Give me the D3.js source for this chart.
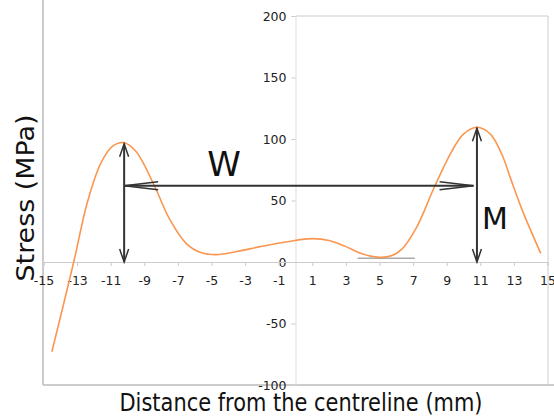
<!DOCTYPE html>
<html>
<head>
<meta charset="utf-8">
<script src="https://cdn.jsdelivr.net/npm/d3@7"></script>
<style>
  body { margin: 0; background: #fff; }
  text { font-family: "DejaVu Sans", sans-serif; }
</style>
</head>
<body>
<svg id="chart" width="554" height="416"></svg>
<script>
// distance (mm) and stress (MPa)
var dist = [-14.5, -13.2, -12.4, -11.6, -10.9, -10.2, -9.5, -8.4, -7.5, -6.5, -5.6, -4.7, -3.5, -2.1, -0.5, 1.0, 2.0, 3.0, 4.0, 5.0, 5.7, 6.3, 7.2, 8.3, 9.3, 10.0, 10.8, 11.6, 12.3, 12.8, 13.5, 14.6];
var stress = [-73, 0, 48, 80, 94, 97, 90, 62, 35, 15, 7.5, 6, 8.5, 12.5, 16.5, 19, 17.5, 12.5, 6.5, 3.8, 5, 10, 28, 62, 90, 104, 109.5, 104, 87, 68, 42, 7];

var xTicks = [-15, -13, -11, -9, -7, -5, -3, -1, 1, 3, 5, 7, 9, 11, 13, 15];
var yTicks = [-100, -50, 0, 50, 100, 150, 200];

// annotation arrows (data units)
var wArrow = [-10.2, 10.6, 62];      // x1, x2, y
var leftArrow = [-10.2, 0, 97];      // x, y1, y2
var rightArrow = [10.8, 0, 109.5];
var flatLine = [3.7, 7.1, 3];

var x = d3.scaleLinear().domain([-15, 15]).range([43.5, 547.5]);
var y = d3.scaleLinear().domain([-100, 200]).range([385, 16]);

var svg = d3.select("#chart");

// frame
svg.append("line").attr("x1", 43).attr("x2", 43).attr("y1", 0).attr("y2", 385).attr("stroke", "#bbb").attr("stroke-width", 1.5);
svg.append("line").attr("x1", 43).attr("x2", 554).attr("y1", 385).attr("y2", 385).attr("stroke", "#bbb").attr("stroke-width", 1.5);
svg.append("line").attr("x1", x(0)).attr("x2", 548).attr("y1", y(200)).attr("y2", y(200)).attr("stroke", "#ccc");
svg.append("line").attr("x1", 548).attr("x2", 548).attr("y1", y(200)).attr("y2", 385).attr("stroke", "#ccc");

var fmt = function(d){ return String(d); };

// y axis at x = 0
var yAxis = svg.append("g").attr("transform", "translate(" + x(0) + ",0)")
  .call(d3.axisLeft(y).tickValues(yTicks).tickSize(4).tickPadding(5).tickFormat(fmt));
yAxis.select(".domain").attr("stroke", "#ddd");
yAxis.selectAll(".tick line").attr("stroke", "#ccc");
yAxis.selectAll("text").attr("font-size", 12.5).attr("fill", "#222").style("font-family", "DejaVu Sans");

// x axis at y = 0
var xAxis = svg.append("g").attr("transform", "translate(0," + y(0) + ")")
  .call(d3.axisBottom(x).tickValues(xTicks).tickSize(4).tickPadding(10).tickFormat(fmt));
xAxis.select(".domain").attr("stroke", "#ccc");
xAxis.selectAll(".tick line").attr("stroke", "#ccc");
xAxis.selectAll("text").attr("font-size", 12.5).attr("fill", "#222").style("font-family", "DejaVu Sans");

// grey flat line near the second minimum
svg.append("line")
  .attr("x1", x(flatLine[0])).attr("x2", x(flatLine[1]))
  .attr("y1", y(flatLine[2])).attr("y2", y(flatLine[2]))
  .attr("stroke", "#aaa").attr("stroke-width", 1.5);

// stress curve
var line = d3.line().x(function(d, i){ return x(dist[i]); }).y(function(d){ return y(d); }).curve(d3.curveCatmullRom);
svg.append("path").datum(stress)
  .attr("d", line)
  .attr("fill", "none")
  .attr("stroke", "#fb9650")
  .attr("stroke-width", 1.6);

// arrows with open heads
var arrowCol = "#333";
function head(px, py, dx, dy, len, half) {
  // dx,dy = unit direction the arrow points
  var bx = px - dx * len, by = py - dy * len;
  var nx = -dy, ny = dx;
  svg.append("path")
    .attr("d", "M" + (bx + nx * half) + "," + (by + ny * half) + "L" + px + "," + py + "L" + (bx - nx * half) + "," + (by - ny * half))
    .attr("fill", "none").attr("stroke", arrowCol).attr("stroke-width", 1.5);
}

// W
svg.append("line").attr("x1", x(wArrow[0])).attr("x2", x(wArrow[1]))
  .attr("y1", y(wArrow[2])).attr("y2", y(wArrow[2]))
  .attr("stroke", arrowCol).attr("stroke-width", 2);
head(x(wArrow[0]), y(wArrow[2]), -1, 0, 34, 4);
head(x(wArrow[1]), y(wArrow[2]), 1, 0, 34, 4);

// vertical arrows
[leftArrow, rightArrow].forEach(function(a){
  svg.append("line").attr("x1", x(a[0])).attr("x2", x(a[0]))
    .attr("y1", y(a[1])).attr("y2", y(a[2]) + 1)
    .attr("stroke", arrowCol).attr("stroke-width", 2);
  head(x(a[0]), y(a[2]) + 1, 0, -1, 13, 4.5);
  head(x(a[0]), y(a[1]), 0, 1, 13, 4.5);
});

svg.append("text").attr("x", 224).attr("y", 176).attr("text-anchor", "middle")
  .attr("font-size", 34).attr("fill", "#111").text("W");
svg.append("text").attr("x", 495).attr("y", 229).attr("text-anchor", "middle")
  .attr("font-size", 30).attr("fill", "#111").text("M");

// axis titles
svg.append("text")
  .attr("transform", "translate(34,198) rotate(-90)")
  .attr("text-anchor", "middle")
  .attr("font-size", 24).attr("fill", "#111")
  .attr("textLength", 167).attr("lengthAdjust", "spacingAndGlyphs")
  .text("Stress (MPa)");
svg.append("text")
  .attr("x", 301).attr("y", 411)
  .attr("text-anchor", "middle")
  .attr("font-size", 25).attr("fill", "#111")
  .attr("textLength", 363).attr("lengthAdjust", "spacingAndGlyphs")
  .text("Distance from the centreline (mm)");
</script>
</body>
</html>
